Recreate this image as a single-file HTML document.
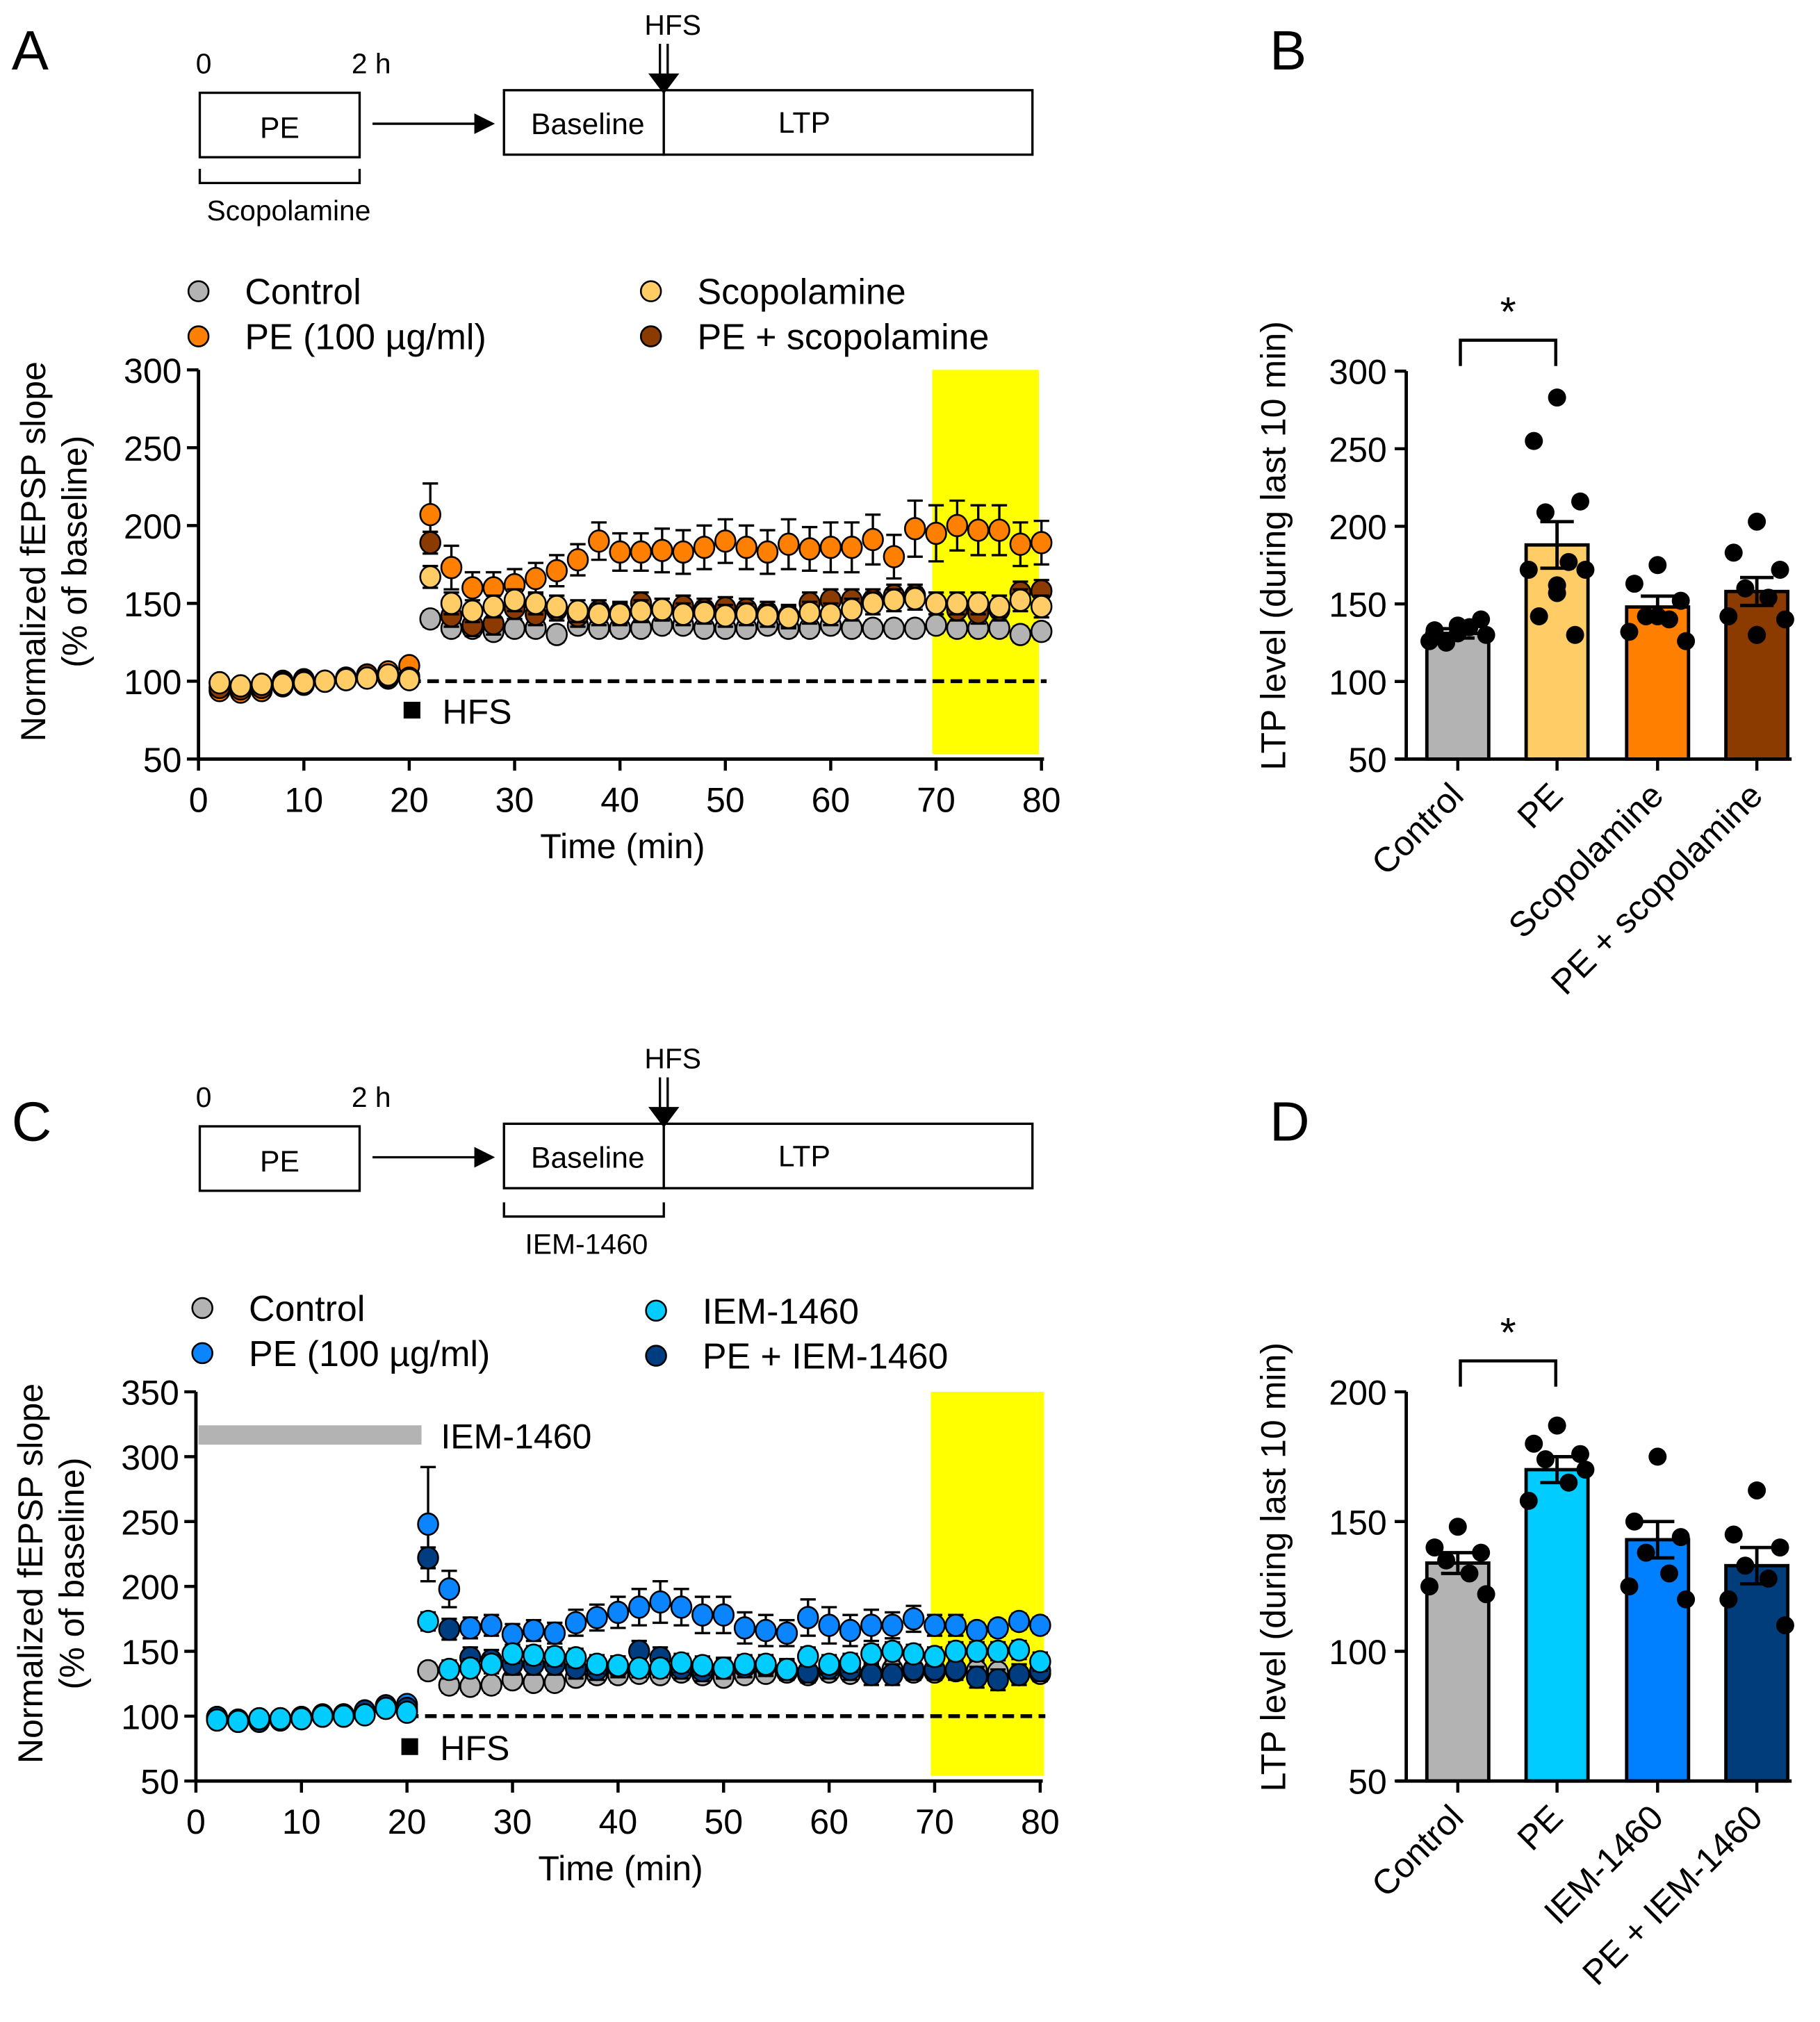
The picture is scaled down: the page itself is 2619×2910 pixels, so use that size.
<!DOCTYPE html>
<html><head><meta charset="utf-8">
<style>
html,body{margin:0;padding:0;background:#fff;}
svg{display:block;font-family:"Liberation Sans",Arial,sans-serif;}
</style></head>
<body>
<svg id="fig" width="2619" height="2910" viewBox="0 0 1412 1569" preserveAspectRatio="none" xmlns="http://www.w3.org/2000/svg">
<g id="root"></g>
</svg>
<script>
// ---------- data ----------
const timesBase = [2,4,6,8,10,12,14,16,18,20];
const timesPost = [22,24,26,28,30,32,34,36,38,40,42,44,46,48,50,52,54,56,58,60,62,64,66,68,70,72,74,76,78,80];

const aControlBase = [99,97,98,100,101,100,102,104,102,103];
const aControlPost = [140,134,134,132,134,134,130,136,134,134,134,136,136,134,134,134,136,134,134,136,134,134,134,134,136,134,134,134,130,132];
const aPEBase = [94,93,94,97,98,100,101,104,106,110];
const aPEPost = [207,173,160,160,162,166,171,178,190,183,183,184,183,186,190,186,183,188,185,186,186,191,180,198,195,200,197,197,188,189];
const aPEErr = [20,14,10,10,10,10,10,10,12,12,12,14,14,14,14,14,14,16,14,16,16,16,14,18,18,16,16,16,14,14];
const aScopBase = [99,97,98,98,99,100,101,102,104,101];
const aScopPost = [167,150,145,148,152,150,148,145,143,143,145,146,143,144,142,143,142,141,144,143,146,150,152,153,150,150,150,148,152,148];
const aPEScopBase = [96,95,96,99,100,100,102,104,103,102];
const aPEScopPost = [189,142,136,137,147,143,146,142,145,144,150,146,148,146,147,146,144,142,150,152,152,152,155,155,150,146,144,146,157,158];

const cControlBase = [99,97,98,98,99,100,101,103,106,104];
const cControlPost = [135,124,123,124,128,126,126,130,132,132,133,132,134,132,130,132,133,134,132,134,133,133,136,134,134,135,135,134,132,133];
const cPEBase = [98,96,97,98,99,101,101,104,108,109];
const cPEPost = [248,198,168,170,163,166,164,172,176,180,184,188,184,178,178,168,166,164,176,170,166,170,170,175,170,170,166,168,173,170];
const cPEErr = [44,14,8,8,8,8,8,10,10,12,14,16,14,14,14,12,12,10,14,14,12,12,10,10,8,8,6,6,6,6];
const cIEMBase = [97,96,98,98,98,100,100,101,106,103];
const cIEMPost = [173,136,137,140,148,147,146,145,140,139,137,137,141,139,137,140,140,136,146,140,141,148,150,148,146,150,150,150,151,142];
const cPEIEMBase = [99,96,96,97,98,100,100,104,108,106];
const cPEIEMPost = [222,167,145,143,140,140,140,137,136,138,150,145,137,135,137,138,139,136,134,137,136,132,132,136,136,136,130,128,132,135];

const bCategories = ["Control","PE","Scopolamine","PE + scopolamine"];
const bMeans = [131,188,148,158];
const bSem = [3,15,7,9];
const bDots = [[136,133,140,125,135,126,130,131,136],[283,255,216,209,177,172,172,162,157,142,130],[175,163,152,142,140,132,126,142],[203,183,172,160,154,142,140,130,130]];
const dCategories = ["Control","PE","IEM-1460","PE + IEM-1460"];
const dMeans = [134,170,143,133];
const dSem = [4,5,7,7];
const dDots = [[148,140,138,135,130,125,122],[187,180,176,174,165,158,170],[175,150,144,138,130,125,120],[162,145,140,133,128,120,110]];

const yTicksA = [50,100,150,200,250,300];
const yTicksC = [50,100,150,200,250,300,350];
const xTicks = [0,10,20,30,40,50,60,70,80];
const yTicksB = [50,100,150,200,250,300];
const yTicksD = [50,100,150,200];

// ---------- helpers ----------
const NS = "http://www.w3.org/2000/svg";
const root = document.getElementById('root');
function mk(tag, attrs, parent, text){
  const e = document.createElementNS(NS, tag);
  for (const k in attrs) e.setAttribute(k, attrs[k]);
  if (text !== undefined) e.textContent = text;
  (parent||root).appendChild(e);
  return e;
}
function txt(x,y,s,size,anchor,parent,extra){
  const t = mk('text', Object.assign({x:x,y:y,'font-size':size,'text-anchor':anchor||'start',fill:'#000'}, extra||{}), parent, s);
  return t;
}

// ---------- panel letters ----------
[["A",9,54],["B",985,54],["C",9,885],["D",985,885]].forEach(p=>{
  const t = txt(p[1],p[2],p[0],43,'start');
  
  
});

// ---------- schematics ----------
function schematic(oy, bracketUnderPE, bracketLabel){
  const g = mk('g',{});
  
  
  const sw = {fill:'#fff',stroke:'#000','stroke-width':1.8};
  mk('rect',Object.assign({x:155,y:oy+72,width:124,height:50},sw),g);
  txt(217,oy+107,"PE",23,'middle',g);
  txt(158,oy+57,"0",22,'middle',g);
  txt(288,oy+57,"2 h",22,'middle',g);
  mk('line',{x1:289,y1:oy+96,x2:370,y2:oy+96,stroke:'#000','stroke-width':1.8},g);
  mk('polygon',{points:`${368},${oy+88} ${384},${oy+96} ${368},${oy+104}`,fill:'#000'},g);
  mk('rect',Object.assign({x:391,y:oy+70,width:124,height:50},sw),g);
  mk('rect',Object.assign({x:515,y:oy+70,width:286,height:50},sw),g);
  txt(456,oy+104,"Baseline",23,'middle',g);
  txt(624,oy+103,"LTP",23,'middle',g);
  txt(522,oy+27,"HFS",22,'middle',g);
  mk('line',{x1:512,y1:oy+34,x2:512,y2:oy+66,stroke:'#000','stroke-width':1.8},g);
  mk('line',{x1:518,y1:oy+34,x2:518,y2:oy+66,stroke:'#000','stroke-width':1.8},g);
  mk('polygon',{points:`${503},${oy+57} ${527},${oy+57} ${515},${oy+73}`,fill:'#000'},g);
  const bx1 = bracketUnderPE?155:391, bx2 = bracketUnderPE?279:515;
  mk('polyline',{points:`${bx1},${oy+131} ${bx1},${oy+142} ${bx2},${oy+142} ${bx2},${oy+131}`,fill:'none',stroke:'#000','stroke-width':1.8},g);
  txt((bx1+bx2)/2+(bracketUnderPE?7:2),oy+171,bracketLabel,22,'middle',g);
}
schematic(0,true,"Scopolamine");
schematic(802,false,"IEM-1460");

// ---------- time-course plot ----------
function timeCourse(cfg){
  const g = mk('g',{});
  
  
  const X = t => cfg.x0 + (cfg.x1-cfg.x0)*t/80;
  const Y = v => cfg.yBot - (cfg.yBot-cfg.yTop)*(v-cfg.yMin)/(cfg.yMax-cfg.yMin);
  const hl = mk('rect',{x:X(70)-3,y:cfg.yTop,width:X(80)-X(70)+cfg.hlExtra,height:cfg.yBot-cfg.yTop-4,fill:'#ffff00'},g);
  
  
  mk('line',{x1:X(20),y1:Y(100),x2:X(80)+4,y2:Y(100),stroke:'#000','stroke-width':3,'stroke-dasharray':'9,5'},g);
  mk('line',{x1:cfg.x0,y1:cfg.yTop,x2:cfg.x0,y2:cfg.yBot,stroke:'#000','stroke-width':2.6},g);
  mk('line',{x1:cfg.x0,y1:cfg.yBot,x2:cfg.x1+2,y2:cfg.yBot,stroke:'#000','stroke-width':2.6},g);
  cfg.yTicks.forEach(v=>{
    mk('line',{x1:cfg.x0-9,y1:Y(v),x2:cfg.x0,y2:Y(v),stroke:'#000','stroke-width':2.4},g);
    txt(cfg.x0-13,Y(v)+10,String(v),27,'end',g);
  });
  xTicks.forEach(v=>{
    mk('line',{x1:X(v),y1:cfg.yBot,x2:X(v),y2:cfg.yBot+9,stroke:'#000','stroke-width':2.4},g);
    txt(X(v),cfg.yBot+41,String(v),27,'middle',g);
  });
  txt((cfg.x0+cfg.x1)/2+2,cfg.yBot+77,"Time (min)",27,'middle',g);
  const yl = txt(0,0,"Normalized fEPSP slope",27,'middle',g,{transform:`translate(${cfg.x0-119},${(cfg.yTop+cfg.yBot)/2-10}) rotate(-90)`});
  
  
  txt(0,0,"(% of baseline)",27,'middle',g,{transform:`translate(${cfg.x0-87},${(cfg.yTop+cfg.yBot)/2-10}) rotate(-90)`});
  mk('rect',{x:X(20.2)-6,y:Y(cfg.hfsVal)-7,width:13,height:13,fill:'#000'},g);
  txt(X(20.2)+24,Y(cfg.hfsVal)+10,"HFS",27,'start',g);
  if (cfg.extra) cfg.extra(g,X,Y);
  cfg.series.forEach(s=>{
    const sg = mk('g',{},g);
    
    
    const all = timesBase.map((t,i)=>[t,s.base[i],3]).concat(timesPost.map((t,i)=>[t,s.post[i],s.err?s.err[i]:s.e]));
    all.forEach(p=>{
      const x=X(p[0]), y=Y(p[1]), e=p[2]*(cfg.yBot-cfg.yTop)/(cfg.yMax-cfg.yMin);
      mk('line',{x1:x,y1:y-e,x2:x,y2:y+e,stroke:'#000','stroke-width':1.8},sg);
      mk('line',{x1:x-6,y1:y-e,x2:x+6,y2:y-e,stroke:'#000','stroke-width':1.8},sg);
      mk('line',{x1:x-6,y1:y+e,x2:x+6,y2:y+e,stroke:'#000','stroke-width':1.8},sg);
    });
    all.forEach(p=>{
      const c = mk('ellipse',{cx:X(p[0]),cy:Y(p[1]),rx:7.8,ry:8.3,fill:s.color,stroke:'#000','stroke-width':1.4},sg);
      
      
    });
  });
  cfg.legend.forEach(l=>{
    const lg = mk('g',{},g);
    
    
    mk('circle',{cx:l[0],cy:l[1],r:7.8,fill:l[3],stroke:'#000','stroke-width':1.4},lg);
    txt(l[0]+36,l[1]+10,l[2],28,'start',lg);
  });
}

timeCourse({name:'panel-a-timecourse',x0:154,x1:808,yTop:287,yBot:589,yMin:50,yMax:300,yTicks:yTicksA,hfsVal:81,hlExtra:1,
  series:[
    {key:'control',color:'#b3b3b3',base:aControlBase,post:aControlPost,e:5},
    {key:'pe',color:'#ff8000',base:aPEBase,post:aPEPost,err:aPEErr},
    {key:'pe-scopolamine',color:'#8b3a00',base:aPEScopBase,post:aPEScopPost,e:7},
    {key:'scopolamine',color:'#ffcc66',base:aScopBase,post:aScopPost,e:7}],
  legend:[[154,226,"Control",'#b3b3b3'],[154,261,"PE (100 µg/ml)",'#ff8000'],[505,226,"Scopolamine",'#ffcc66'],[505,261,"PE + scopolamine",'#8b3a00']]
});

timeCourse({name:'panel-c-timecourse',x0:152,x1:807,yTop:1080,yBot:1382,yMin:50,yMax:350,yTicks:yTicksC,hfsVal:76,hlExtra:6,
  extra:(g,X,Y)=>{
    const b = mk('rect',{x:154,y:1106,width:173,height:15,fill:'#b3b3b3'},g);
    
    
    txt(342,1124,"IEM-1460",27,'start',g);
  },
  series:[
    {key:'control',color:'#b3b3b3',base:cControlBase,post:cControlPost,e:6},
    {key:'pe',color:'#0a84ff',base:cPEBase,post:cPEPost,err:cPEErr},
    {key:'pe-iem',color:'#003d80',base:cPEIEMBase,post:cPEIEMPost,e:8},
    {key:'iem',color:'#00ccff',base:cIEMBase,post:cIEMPost,e:7}],
  legend:[[157,1015,"Control",'#b3b3b3'],[157,1050,"PE (100 µg/ml)",'#0a84ff'],[509,1017,"IEM-1460",'#00ccff'],[509,1052,"PE + IEM-1460",'#003d80']]
});

// ---------- bar panels ----------
function barPanel(cfg){
  const g = mk('g',{});
  
  
  const Y = v => cfg.yBot - (cfg.yBot-cfg.yTop)*(v-cfg.yMin)/(cfg.yMax-cfg.yMin);
  const cx = [1131,1208,1286,1363];
  const bw = 48;
  cfg.means.forEach((m,i)=>{
    const r = mk('rect',{x:cx[i]-bw/2,y:Y(m),width:bw,height:cfg.yBot-Y(m),fill:cfg.colors[i],stroke:'#000','stroke-width':2.6},g);
    
    
  });
  cfg.means.forEach((m,i)=>{
    const e = cfg.sem[i]*(cfg.yBot-cfg.yTop)/(cfg.yMax-cfg.yMin);
    mk('line',{x1:cx[i],y1:Y(m)-e,x2:cx[i],y2:Y(m)+e,stroke:'#000','stroke-width':2.6},g);
    mk('line',{x1:cx[i]-13,y1:Y(m)-e,x2:cx[i]+13,y2:Y(m)-e,stroke:'#000','stroke-width':2.6},g);
    mk('line',{x1:cx[i]-13,y1:Y(m)+e,x2:cx[i]+13,y2:Y(m)+e,stroke:'#000','stroke-width':2.6},g);
    const offs = [0,-18,18,-9,9,-22,22,0,0,-14,14];
    cfg.dots[i].forEach((v,j)=>{
      const d = mk('circle',{cx:cx[i]+offs[j%offs.length],cy:Y(v),r:7,fill:'#000'},g);
      
      
    });
  });
  mk('line',{x1:1091,y1:cfg.yTop,x2:1091,y2:cfg.yBot,stroke:'#000','stroke-width':2.6},g);
  mk('line',{x1:1083,y1:cfg.yBot,x2:1390,y2:cfg.yBot,stroke:'#000','stroke-width':2.6},g);
  cfg.ticks.forEach(v=>{
    mk('line',{x1:1082,y1:Y(v),x2:1091,y2:Y(v),stroke:'#000','stroke-width':2.4},g);
    txt(1076,Y(v)+10,String(v),27,'end',g);
  });
  cx.forEach((x,i)=>{
    mk('line',{x1:x,y1:cfg.yBot,x2:x,y2:cfg.yBot+9,stroke:'#000','stroke-width':2.4},g);
    txt(0,0,cfg.cats[i],27,'end',g,{transform:`translate(${x+6},${cfg.yBot+30}) rotate(-45)`});
  });
  txt(0,0,"LTP level (during last 10 min)",27,'middle',g,{transform:`translate(${997},${(cfg.yTop+cfg.yBot)/2-15}) rotate(-90)`});
  const by = cfg.yTop-24;
  mk('polyline',{points:`${1133},${by+20} ${1133},${by} ${1207},${by} ${1207},${by+20}`,fill:'none',stroke:'#000','stroke-width':2.4},g);
  txt(1170,by-11,"*",32,'middle',g);
}
barPanel({name:'panel-b-bars',yTop:288,yBot:589,yMin:50,yMax:300,ticks:yTicksB,cats:bCategories,means:bMeans,sem:bSem,dots:bDots,colors:['#b3b3b3','#ffcc66','#ff8000','#8b3a00']});
barPanel({name:'panel-d-bars',yTop:1080,yBot:1382,yMin:50,yMax:200,ticks:yTicksD,cats:dCategories,means:dMeans,sem:dSem,dots:dDots,colors:['#b3b3b3','#00ccff','#0080ff','#003d7a']});
</script>
</body></html>
